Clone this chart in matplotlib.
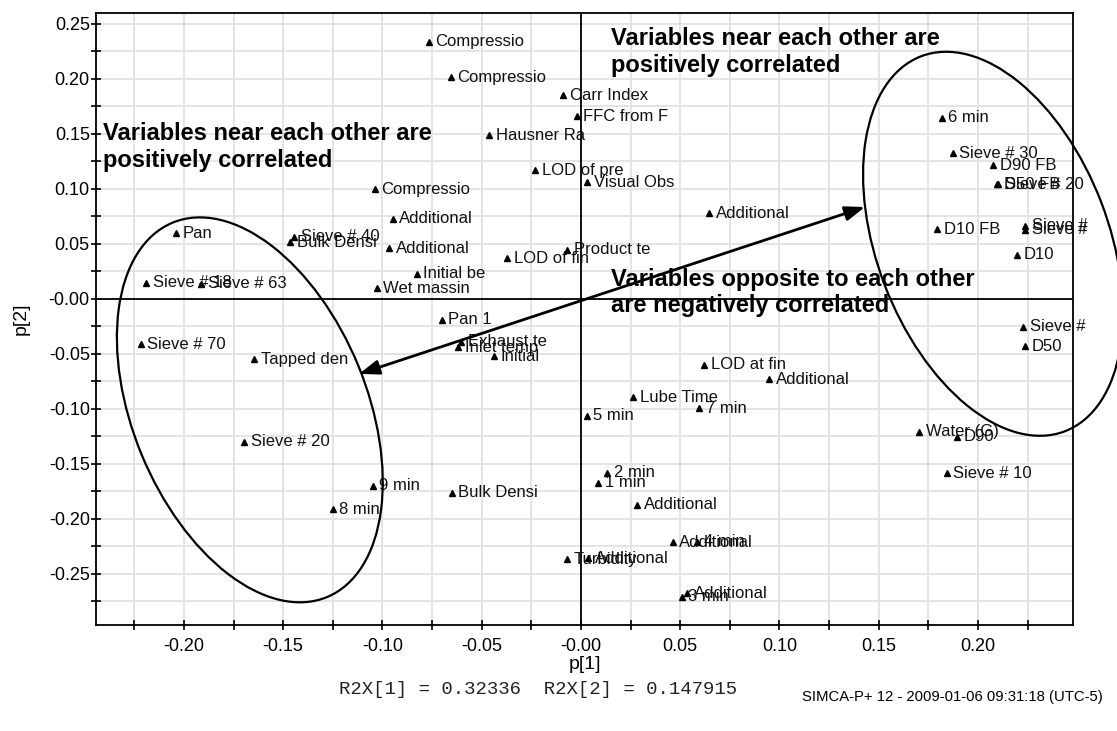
import matplotlib
matplotlib.use("Agg")
import matplotlib.pyplot as plt
from matplotlib.ticker import MultipleLocator, FuncFormatter
from matplotlib.patches import Ellipse
from matplotlib import transforms, font_manager

plt.rcParams['font.family'] = ['Liberation Sans', 'DejaVu Sans']

# -----------------------------
# Loadings (p[1], p[2])
# -----------------------------

labels = [
    "Compressio", "Compressio", "Carr Index", "FFC from F", "Hausner Ra",
    "LOD of pre", "Visual Obs", "Compressio", "Additional", "Additional",
    "Pan", "Sieve # 40", "Bulk Densi", "Additional", "Product te",
    "LOD of fin", "Initial be", "Wet massin", "Sieve # 18", "Sieve # 63",
    "6 min", "Sieve # 30", "D90 FB", "D50 FB", "Sieve # 20",
    "Sieve #", "Sieve #", "D10 FB", "D10", "Sieve #",
    "D50", "Sieve # 70", "Tapped den", "Pan 1", "Exhaust te",
    "Inlet temp", "Initial", "LOD at fin", "Additional", "Lube Time",
    "7 min", "5 min", "Sieve # 20", "Water (G)", "D90",
    "Sieve # 10", "2 min", "1 min", "9 min", "Bulk Densi",
    "8 min", "Additional", "Additional", "4 min", "Turbidity",
    "Additional", "Additional", "3 min",
]

p1 = [
    -0.0766, -0.0657, -0.0089, -0.0022, -0.0462,
    -0.0232, 0.0032, -0.1038, -0.0949, 0.0646,
    -0.2040, -0.1446, -0.1466, -0.0966, -0.0069,
    -0.0371, -0.0828, -0.1029, -0.2191, -0.1914,
    0.1817, 0.1872, 0.2077, 0.2097, 0.2102,
    0.2238, 0.2238, 0.1795, 0.2195, 0.2228,
    0.2237, -0.2218, -0.1647, -0.0702, -0.0605,
    -0.0618, -0.0438, 0.0620, 0.0947, 0.0264,
    0.0596, 0.0029, -0.1698, 0.1704, 0.1893,
    0.1842, 0.0133, 0.0087, -0.1049, -0.0652,
    -0.1251, 0.0284, 0.0462, 0.0584, -0.0069,
    0.0037, 0.0536, 0.0507,
]

p2 = [
    0.2336, 0.2012, 0.1848, 0.1657, 0.1485,
    0.1167, 0.1057, 0.0997, 0.0727, 0.0779,
    0.0597, 0.0566, 0.0512, 0.0461, 0.0445,
    0.0370, 0.0227, 0.0097, 0.0148, 0.0136,
    0.1643, 0.1324, 0.1212, 0.1043, 0.1040,
    0.0666, 0.0627, 0.0633, 0.0400, -0.0252,
    -0.0433, -0.0412, -0.0548, -0.0191, -0.0388,
    -0.0439, -0.0524, -0.0600, -0.0730, -0.0894,
    -0.0994, -0.1064, -0.1297, -0.1206, -0.1252,
    -0.1585, -0.1579, -0.1670, -0.1700, -0.1761,
    -0.1912, -0.1873, -0.2212, -0.2209, -0.2366,
    -0.2357, -0.2676, -0.2706,
]

r2x = [0.32336, 0.147915]
stamp = "SIMCA-P+ 12 - 2009-01-06 09:31:18 (UTC-5)"

# -----------------------------
# Figure
# -----------------------------

W, H = 1117, 731
fig = plt.figure(figsize=(W / 100, H / 100), dpi=100)
ax = fig.add_axes([96 / W, 106 / H, 977 / W, 612 / H])

ax.set_xlim(-0.2443, 0.2479)
ax.set_ylim(-0.2964, 0.2597)


def fmt(v, pos):
    k = round(v / 0.025)
    if k % 2:
        return ""
    if k == 0:
        return "-0.00"
    return f"{v:.2f}"


for axis in (ax.xaxis, ax.yaxis):
    axis.set_major_locator(MultipleLocator(0.025))
    axis.set_major_formatter(FuncFormatter(fmt))

ax.grid(color="#e2e2e2", lw=1.3)
ax.set_axisbelow(True)
ax.tick_params(direction="inout", length=7, width=1.2, labelsize=13,
               top=False, right=False)
ax.tick_params(axis="x", pad=6)
ax.tick_params(axis="y", pad=1)
for s in ax.spines.values():
    s.set_linewidth(1.3)

ax.axhline(0, color="black", lw=1.3, zorder=1.5)
ax.axvline(0, color="black", lw=1.3, zorder=1.5)

ax.set_xlabel("p[1]", fontsize=14)
ax.set_ylabel("p[2]", fontsize=14)
ax.xaxis.set_label_coords(0.5, (625 - 656) / 612)
ax.yaxis.set_label_coords((30 - 96) / 977, 0.5)

# points + labels
ax.plot(p1, p2, "^", color="black", ms=5, ls="none", zorder=3)
for lab, x, y in zip(labels, p1, p2):
    ax.annotate(lab, (x, y), xytext=(4.8, 0), textcoords="offset points",
                fontsize=12, ha="left", va="center", color="#111111",
                annotation_clip=False)

# -----------------------------
# Annotations
# -----------------------------

bold = dict(fontsize=17, fontweight="bold", ha="left", va="top", color="black")
ax.text(-0.2410, 0.1605, "Variables near each other are\npositively correlated", **bold)
ax.text(0.0150, 0.2470, "Variables near each other are\npositively correlated", **bold)
ax.text(0.0150, 0.0282, "Variables opposite to each other\nare negatively correlated", **bold)

ax.annotate("", xy=(-0.1117, -0.0682), xytext=(0.1431, 0.0834),
            arrowprops=dict(arrowstyle="<|-|>,head_length=0.6,head_width=0.22",
                            mutation_scale=20, lw=2, color="black",
                            shrinkA=0, shrinkB=0))

# ellipses drawn in pixel units around a data-space centre
for centre, a, b, ang in [((-0.1668, -0.1009), 202.5, 117.1, -67.6),
                          ((0.2076, 0.0500), 200.8, 115.9, -69.0)]:
    cx, cy = ax.transData.transform(centre)
    e = Ellipse((cx, cy), 2 * a, 2 * b, angle=ang, fill=False,
                lw=1.6, color="black", transform=transforms.IdentityTransform(),
                clip_on=False)
    fig.add_artist(e)

# footer
fig.text(538 / W, 1 - 690 / H,
         f"R2X[1] = {r2x[0]}  R2X[2] = {r2x[1]}",
         family=["Liberation Mono", "DejaVu Sans Mono"], fontsize=13.7,
         color="#222222", ha="center", va="center")

names = {f.name for f in font_manager.fontManager.ttflist}
if "Liberation Sans Narrow" in names:
    stamp_font, stamp_size = "Liberation Sans Narrow", 12.5
else:
    stamp_font, stamp_size = "Liberation Sans", 10.7
fig.text(1103 / W, 1 - 697 / H, stamp, family=[stamp_font, "DejaVu Sans"],
         fontsize=stamp_size, ha="right", va="center")

fig.savefig("out.png", dpi=100)
